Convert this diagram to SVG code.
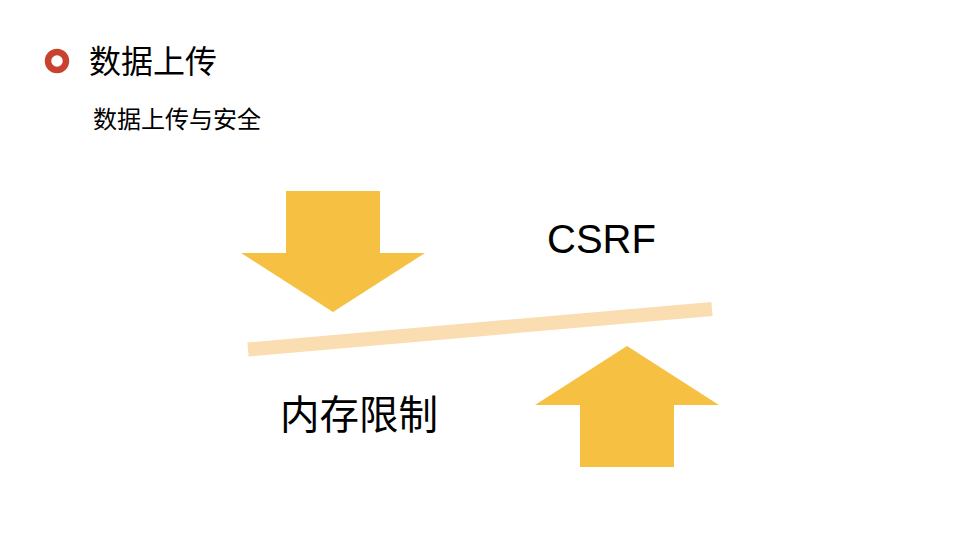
<svg xmlns="http://www.w3.org/2000/svg" width="960" height="540" viewBox="0 0 960 540">
<style>
.cjk{font-family:"Noto Sans CJK SC","Noto Sans",sans-serif;fill:#000}
.lat{font-family:"Liberation Sans",Arial,sans-serif;fill:#000}
.arrow{fill:#F6C042}
</style>
<rect width="960" height="540" fill="#fff"/>
<g id="title">
<circle cx="57" cy="61" r="9" fill="none" stroke="#C9412F" stroke-width="6.5"/>
<text class="cjk" x="89" y="73" font-size="32">数据上传</text>
</g>
<g id="subtitle">
<text class="cjk" x="93" y="128" font-size="24">数据上传与安全</text>
</g>
<g id="connectors">
<line x1="248" y1="349.5" x2="712" y2="309" stroke="#FADDB0" stroke-width="14"/>
</g>
<g id="down-arrow">
<polygon class="arrow" points="286,191 380,191 380,253 425,253 333,312 241,253 286,253"/>
</g>
<g id="up-arrow">
<polygon class="arrow" points="627,346 719,405 674,405 674,467 580,467 580,405 535,405"/>
</g>
<g id="csrf">
<text class="lat" x="547" y="253" font-size="40">CSRF</text>
</g>
<g id="memory">
<text class="cjk" x="280" y="429" font-size="39.5">内存限制</text>
</g>
</svg>
